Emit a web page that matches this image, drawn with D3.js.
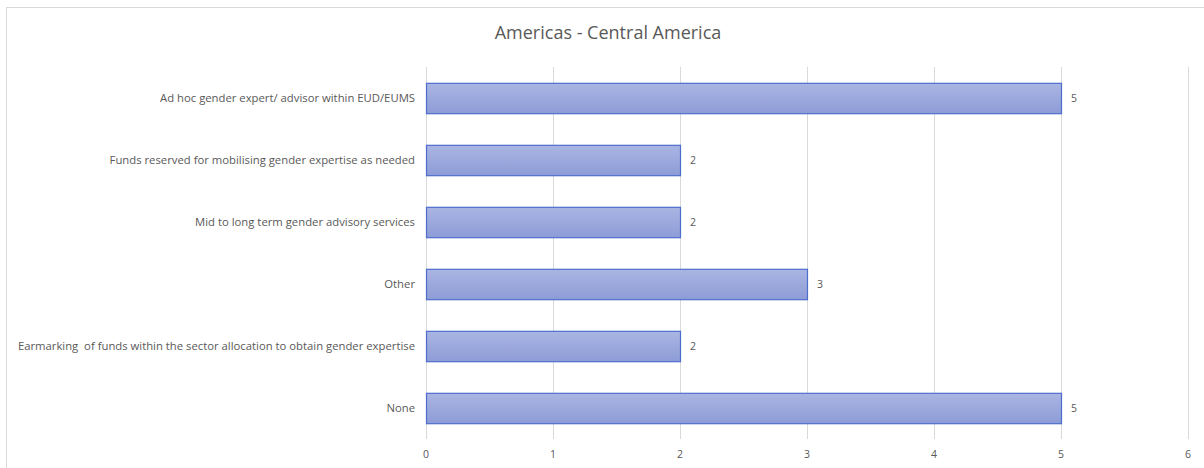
<!DOCTYPE html>
<html>
<head>
<meta charset="utf-8">
<script src="https://cdn.jsdelivr.net/npm/d3@7"></script>
<style>
  body { margin: 0; background: #fff; }
  svg { display: block; font-family: "Open Sans", "Liberation Sans", sans-serif; }
</style>
</head>
<body>
<div id="chart"></div>
<script>
const title = "Americas - Central America";
const categories = [
  "Ad hoc gender expert/ advisor within EUD/EUMS",
  "Funds reserved for mobilising gender expertise as needed",
  "Mid to long term gender advisory services",
  "Other",
  "Earmarking  of funds within the sector allocation to obtain gender expertise",
  "None",
];
const values = [5, 2, 2, 3, 2, 5];
const xTicks = [0, 1, 2, 3, 4, 5, 6];

const width = 1204, height = 468;
const margin = { top: 67, right: 16, bottom: 29, left: 426 };

const svg = d3.select("#chart").append("svg")
  .attr("width", width).attr("height", height);

// chart frame
svg.append("rect")
  .attr("x", 6.5).attr("y", 7.5)
  .attr("width", width + 10).attr("height", height + 10)
  .attr("fill", "none").attr("stroke", "#d9d9d9");

const defs = svg.append("defs");
const grad = defs.append("linearGradient")
  .attr("id", "barFill").attr("x1", 0).attr("y1", 0).attr("x2", 0).attr("y2", 1);
grad.append("stop").attr("offset", "0%").attr("stop-color", "#aab5e3");
grad.append("stop").attr("offset", "100%").attr("stop-color", "#8d9cd7");

const x = d3.scaleLinear().domain([0, 6]).range([margin.left, 1188]);
const y = d3.scaleBand().domain(categories)
  .range([margin.top, height - margin.bottom]).paddingInner(0.51).paddingOuter(0.255);

// gridlines
svg.append("g").selectAll("line")
  .data(xTicks)
  .join("line")
  .attr("x1", d => Math.round(x(d)) + 0.5).attr("x2", d => Math.round(x(d)) + 0.5)
  .attr("y1", margin.top).attr("y2", height - margin.bottom)
  .attr("stroke", "#d9d9d9");

// tick labels
svg.append("g").selectAll("text")
  .data(xTicks)
  .join("text")
  .attr("x", d => x(d))
  .attr("y", 458)
  .attr("text-anchor", "middle")
  .attr("font-size", 10.5)
  .attr("fill", "#595959")
  .text(d => d);

// bars
svg.append("g").selectAll("rect")
  .data(values)
  .join("rect")
  .attr("x", x(0) + 0.5)
  .attr("y", (d, i) => y(categories[i]) + 0.5)
  .attr("width", d => x(d) - x(0))
  .attr("height", y.bandwidth())
  .attr("fill", "url(#barFill)")
  .attr("stroke", "#4c6dcc")
  .attr("stroke-width", 1.2);

// value labels
svg.append("g").selectAll("text")
  .data(values)
  .join("text")
  .attr("x", d => x(d) + 10)
  .attr("y", (d, i) => y(categories[i]) + y.bandwidth() / 2)
  .attr("dy", "0.35em")
  .attr("font-size", 10.5)
  .attr("fill", "#595959")
  .text(d => d);

// category labels
svg.append("g").selectAll("text")
  .data(categories)
  .join("text")
  .attr("x", margin.left - 11)
  .attr("y", d => y(d) + y.bandwidth() / 2)
  .attr("dy", "0.35em")
  .attr("text-anchor", "end")
  .attr("font-size", 11.3)
  .attr("fill", "#595959")
  .attr("xml:space", "preserve")
  .text(d => d);

// title
svg.append("text")
  .attr("x", 608).attr("y", 39)
  .attr("text-anchor", "middle")
  .attr("font-size", 18)
  .attr("fill", "#595959")
  .text(title);
</script>
</body>
</html>
